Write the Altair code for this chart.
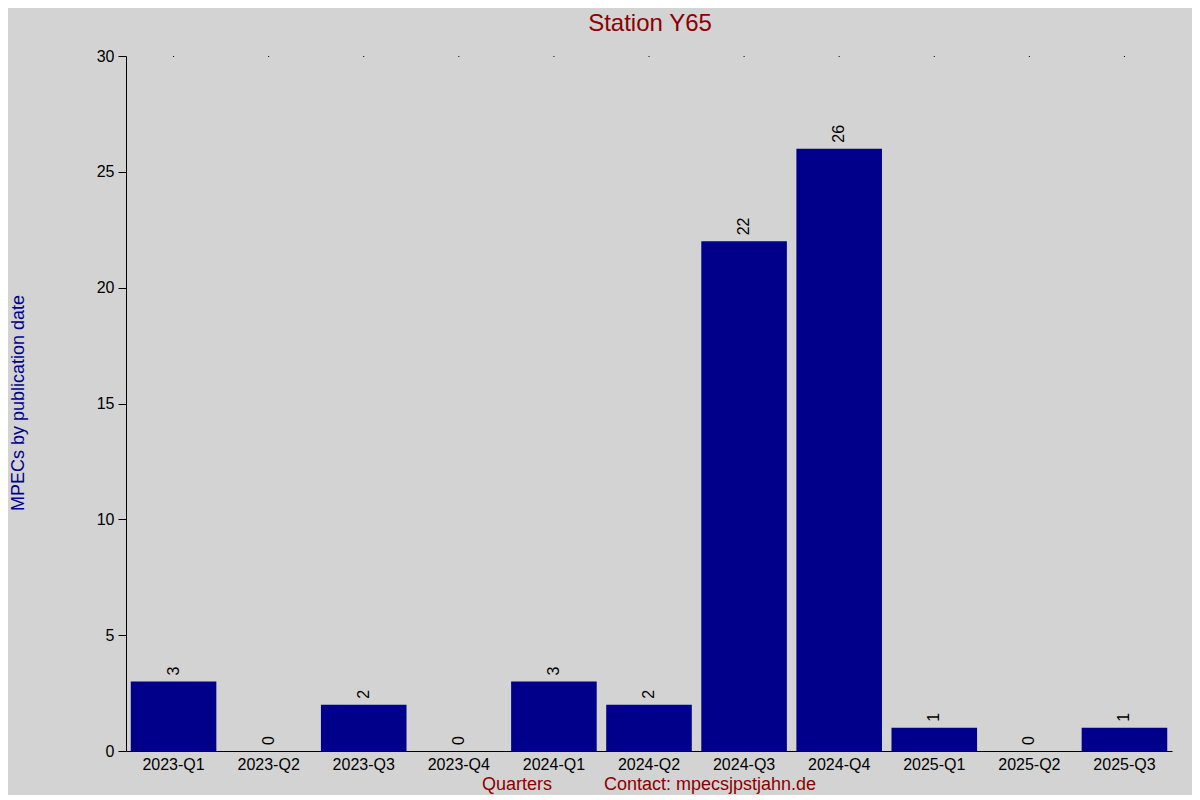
import altair as alt
import pandas as pd

quarters = ["2023-Q1", "2023-Q2", "2023-Q3", "2023-Q4", "2024-Q1", "2024-Q2",
            "2024-Q3", "2024-Q4", "2025-Q1", "2025-Q2", "2025-Q3"]
counts = [3, 0, 2, 0, 3, 2, 22, 26, 1, 0, 1]

title_text = "Station Y65"
y_title = "MPECs by publication date"
x_title = "Quarters"
contact = "Contact: mpecsjpstjahn.de"

FONT = "Liberation Sans"
BAR = "#00008b"
RED = "#8b0000"

df = pd.DataFrame({"q": quarters, "n": counts})

xenc = alt.X("q:N", sort=quarters,
             scale=alt.Scale(paddingInner=0.1, paddingOuter=0.05),
             axis=alt.Axis(title=None, labelAngle=0, ticks=False, domainColor="black",
                           labelPadding=5, labelFontSize=16, labelColor="black",
                           labelFont=FONT, grid=False))
yenc = alt.Y("n:Q", scale=alt.Scale(domain=[0, 30]),
             axis=alt.Axis(title=None, values=[0, 5, 10, 15, 20, 25, 30], tickSize=8,
                           tickColor="black", domainColor="black", labelPadding=4,
                           labelFontSize=16, labelColor="black", labelFont=FONT,
                           grid=False))

bars = alt.Chart(df).mark_bar(color=BAR).encode(x=xenc, y=yenc)

labels = alt.Chart(df).mark_text(angle=270, align="left", baseline="middle", dx=6,
                                 fontSize=16, font=FONT, color="black").encode(
    x=alt.X("q:N", sort=quarters), y="n:Q", text="n:Q")

dots = alt.Chart(df).mark_rule(color="black", size=1).encode(
    x=alt.X("q:N", sort=quarters), y=alt.value(0), y2=alt.value(1))

one = alt.Data(values=[{"a": 1}])

t_title = alt.Chart(one).mark_text(fontSize=24, font=FONT, color=RED, baseline="middle",
                                   align="center").encode(
    x=alt.value(524), y=alt.value(-32), text=alt.value(title_text))
t_y = alt.Chart(one).mark_text(fontSize=18, font=FONT, color=BAR, baseline="middle",
                               align="center", angle=270).encode(
    x=alt.value(-107), y=alt.value(347), text=alt.value(y_title))
t_x = alt.Chart(one).mark_text(fontSize=18, font=FONT, color=RED, baseline="middle",
                               align="center").encode(
    x=alt.value(391), y=alt.value(729), text=alt.value(x_title))
t_c = alt.Chart(one).mark_text(fontSize=18, font=FONT, color=RED, baseline="middle",
                               align="center").encode(
    x=alt.value(584), y=alt.value(729), text=alt.value(contact))

chart = alt.layer(bars, labels, dots, t_title, t_y, t_x, t_c).properties(
    width=1046, height=695,
    autosize=alt.AutoSizeParams(type="none"),
    padding={"left": 118, "top": 48, "right": 20, "bottom": 44},
    background="#d3d3d3",
).configure_view(stroke=None)

chart.save("out.html", embed_options={"renderer": "svg", "actions": False})
